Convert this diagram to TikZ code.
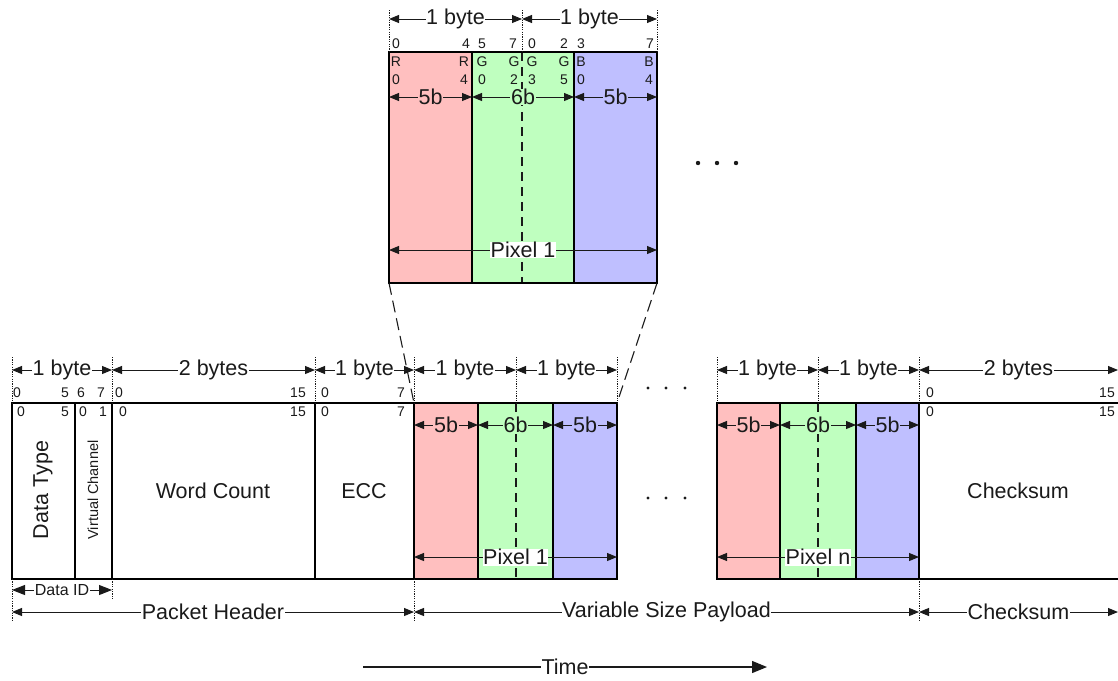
\documentclass[tikz,border=0pt]{standalone}
\usepackage{fontspec}
\setmainfont{Liberation Sans}
\usetikzlibrary{arrows.meta}
\definecolor{pr}{HTML}{FFBFBF}
\definecolor{pg}{HTML}{BFFFBF}
\definecolor{pb}{HTML}{BFBFFF}
\definecolor{ink}{HTML}{1A1A1A}
\tikzset{
  edge/.style={line width=2.8pt, draw=black},
  dimarr/.style={{Triangle[length=10pt,width=8pt]}-{Triangle[length=10pt,width=8pt]}, line width=1pt, draw=ink},
  bigarr/.style={{Triangle[length=13pt,width=10pt]}-{Triangle[length=13pt,width=10pt]}, line width=1pt, draw=ink},
  tickln/.style={line width=0.7pt, draw=ink, dash pattern=on 1.2pt off 1.2pt},
  dimlbl/.style={fill=white, inner sep=0.6pt, text=ink, font=\fontsize{21.5}{21.5}\selectfont},
  smalllbl/.style={fill=white, inner sep=0.6pt, text=ink, font=\fontsize{16}{16}\selectfont},
  bitnum/.style={inner sep=0pt, text=ink, font=\fontsize{14}{14}\selectfont},
  fieldlbl/.style={inner sep=0pt, text=ink, font=\fontsize{21.5}{21.5}\selectfont},
  zoomln/.style={line width=1.1pt, draw=ink, dash pattern=on 12pt off 6pt},
  midln/.style={line width=1.6pt, draw=ink, dash pattern=on 9pt off 6pt},
  dotmark/.style={fill=ink},
}
\begin{document}
\begin{tikzpicture}[x=1pt,y=-1pt]
\useasboundingbox (0,0) rectangle (1118,680);

% ---------------- top zoomed pixel ----------------
\fill[pr] (389,52) rectangle (472,283);
\fill[pg] (472,52) rectangle (574,283);
\fill[pb] (574,52) rectangle (657,283);
\draw[midln] (522,52) -- (522,283);
\draw[edge] (389,52) rectangle (657,283);
\draw[edge] (472,52) -- (472,283);
\draw[edge] (574,52) -- (574,283);

\foreach \x in {389,522,657} \draw[tickln] (\x,10) -- (\x,52);
\coordinate (tA) at (389,19); \coordinate (tB) at (522,19); \coordinate (tC) at (657,19);
\draw[dimarr] (tA) -- node[dimlbl] (tb1) {1 byte} (tB);
\draw[dimarr] (tB) -- node[dimlbl] (tb2) {1 byte} (tC);

\foreach \x/\t in {396/0,466/4,482/5,513/7,532/0,564/2,581/3,650/7}
  \node[bitnum] at (\x,44) {\t};
\foreach \x/\a/\b in {396/R/0,464/R/4,482/G/0,514/G/2,532/G/3,564/G/5,581/B/0,649/B/4}{
  \node[bitnum] at (\x,62) {\a};
  \node[bitnum] at (\x,80) {\b};
}
\coordinate (r1) at (389,97); \coordinate (r2) at (472,97);
\coordinate (r3) at (574,97); \coordinate (r4) at (657,97);
\draw[dimarr] (r1) -- node[dimlbl, fill=pr] (t5a) {5b} (r2);
\draw[dimarr] (r2) -- node[dimlbl, fill=pg] (t6) {6b} (r3);
\draw[dimarr] (r3) -- node[dimlbl, fill=pb] (t5b) {5b} (r4);
\coordinate (p1) at (389,250); \coordinate (p2) at (657,250);
\draw[dimarr] (p1) -- node[dimlbl] (tpix) {Pixel 1} (p2);

\foreach \x in {698,717,736} \fill[dotmark] (\x,163) circle (2.2);

% zoom connectors
\coordinate (zl) at (389,283); \coordinate (zr) at (657,283);
\coordinate (bl) at (414,403); \coordinate (br) at (617,403);
\draw[zoomln] (zl) -- (bl);
\draw[zoomln] (zr) -- (br);

% ---------------- bottom packet ----------------
\fill[pr] (414,403) rectangle (478,579);
\fill[pg] (478,403) rectangle (553,579);
\fill[pb] (553,403) rectangle (617,579);
\fill[pr] (717,403) rectangle (780,579);
\fill[pg] (780,403) rectangle (856,579);
\fill[pb] (856,403) rectangle (919,579);
\draw[midln] (516,403) -- (516,579);
\draw[midln] (818,403) -- (818,579);

% header
\draw[edge] (12,403) rectangle (414,579);
\foreach \x in {75,112,315} \draw[edge] (\x,403) -- (\x,579);
% payload outlines
\draw[edge] (414,403) rectangle (617,579);
\draw[edge] (478,403) -- (478,579);
\draw[edge] (553,403) -- (553,579);
\draw[edge] (717,403) rectangle (919,579);
\draw[edge] (780,403) -- (780,579);
\draw[edge] (856,403) -- (856,579);
% checksum
\draw[edge] (1120,403) -- (919,403) -- (919,579) -- (1120,579);

% field labels
\node[fieldlbl, rotate=90] (dtype) at (43,490) {Data Type};
\node[inner sep=0pt, text=ink, font=\fontsize{14.5}{14.5}\selectfont, rotate=90] (vch) at (93,490) {Virtual Channel};
\node[fieldlbl] (wc) at (213,491) {Word Count};
\node[fieldlbl] (ecc) at (364,491) {ECC};
\node[fieldlbl] (cks) at (1018,491) {Checksum};

% ticks above
\foreach \x in {12,112,315,414,516,617,717,818,919} \draw[tickln] (\x,357) -- (\x,403);
\foreach \x/\l in {12/a,112/b,315/c,414/d,516/e,617/f,717/g,818/h,919/i,1118/j}
  \coordinate (\l) at (\x,370);
\draw[dimarr] (a) -- node[dimlbl] (b1) {1 byte} (b);
\draw[dimarr] (b) -- node[dimlbl] (b2) {2 bytes} (c);
\draw[dimarr] (c) -- node[dimlbl] (b3) {1 byte} (d);
\draw[dimarr] (d) -- node[dimlbl] (b4) {1 byte} (e);
\draw[dimarr] (e) -- node[dimlbl] (b5) {1 byte} (f);
\draw[dimarr] (g) -- node[dimlbl] (b6) {1 byte} (h);
\draw[dimarr] (h) -- node[dimlbl] (b7) {1 byte} (i);
\draw[dimarr] (i) -- node[dimlbl] (b8) {2 bytes} (j);

% bit numbers
\foreach \x/\t in {17/0,65/5,81/6,101/7,119/0,298/15,325/0,401/7,930/0,1107/15}
  \node[bitnum] at (\x,393) {\t};
\foreach \x/\t in {21/0,65/5,83/0,103/1,123/0,298/15,325/0,401/7,930/0,1107/15}
  \node[bitnum] at (\x,412) {\t};

% 5b/6b arrows bottom
\foreach \xa/\xb/\xc/\xd/\n in {414/478/553/617/1,717/780/856/919/2}{
  \coordinate (q1\n) at (\xa,425); \coordinate (q2\n) at (\xb,425);
  \coordinate (q3\n) at (\xc,425); \coordinate (q4\n) at (\xd,425);
  \draw[dimarr] (q1\n) -- node[dimlbl, fill=pr] {5b} (q2\n);
  \draw[dimarr] (q2\n) -- node[dimlbl, fill=pg] {6b} (q3\n);
  \draw[dimarr] (q3\n) -- node[dimlbl, fill=pb] {5b} (q4\n);
}
\coordinate (s1) at (414,557); \coordinate (s2) at (617,557);
\coordinate (s3) at (717,557); \coordinate (s4) at (919,557);
\draw[dimarr] (s1) -- node[dimlbl] (pix1) {Pixel 1} (s2);
\draw[dimarr] (s3) -- node[dimlbl] (pixn) {Pixel n} (s4);

\foreach \y in {388,498} \foreach \x in {648,666,685} \fill[dotmark] (\x,\y) circle (1.7);

% ticks below
\foreach \x in {12,414,919} \draw[tickln] (\x,579) -- (\x,622);
\draw[tickln] (112,579) -- (112,600);
\coordinate (di1) at (12,590); \coordinate (di2) at (112,590);
\draw[bigarr] (di1) -- node[smalllbl] (did) {Data ID} (di2);

\coordinate (h1) at (12,612); \coordinate (h2) at (414,612);
\coordinate (h3) at (919,612); \coordinate (h4) at (1118,612);
\draw[dimarr] (h1) -- node[dimlbl] (ph) {Packet Header} (h2);
\draw[dimarr] (h2) -- node[dimlbl] (vsp) {Variable Size Payload} (h3);
\draw[dimarr] (h3) -- node[dimlbl] (ck) {Checksum} (h4);

% time arrow
\coordinate (ts) at (363,667); \coordinate (te) at (767,667);
\draw[line width=1.3pt, draw=ink, -{Triangle[length=15pt,width=12pt]}] (ts) -- node[dimlbl] (time) {Time} (te);
\end{tikzpicture}
\end{document}
